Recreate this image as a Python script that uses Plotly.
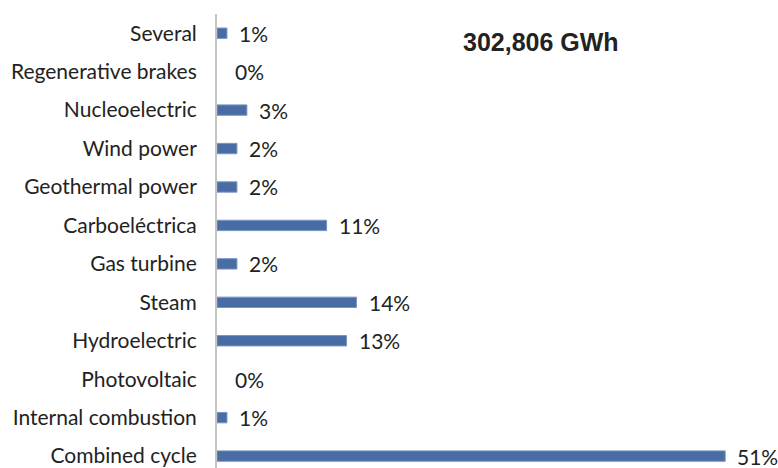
import plotly.graph_objects as go

# Electricity generation by technology (share of total, %)
categories = [
    "Combined cycle", "Internal combustion", "Photovoltaic", "Hydroelectric",
    "Steam", "Gas turbine", "Carboeléctrica", "Geothermal power",
    "Wind power", "Nucleoelectric", "Regenerative brakes", "Several",
]
shares = [51, 1, 0, 13, 14, 2, 11, 2, 2, 3, 0, 1]
total_label = "302,806 GWh"

label_font = dict(family="Lato, Open Sans, sans-serif", size=21, color="#222222")

fig = go.Figure()
fig.add_trace(go.Bar(
    x=shares,
    y=categories,
    orientation="h",
    width=0.27,
    marker=dict(
        color="#4a6ca5",
        line=dict(color="#7a95c4", width=[1 if v > 0 else 0 for v in shares]),
    ),
    hoverinfo="skip",
))

# Value labels to the right of each bar
for cat, val in zip(categories, shares):
    fig.add_annotation(
        x=val, y=cat, text=f"{val}%", showarrow=False,
        xanchor="left", xshift=10 if val > 0 else 16,
        font=label_font,
    )

fig.add_annotation(
    x=0.578, y=0.938, xref="paper", yref="paper", text=f"<b>{total_label}</b>",
    showarrow=False, xanchor="center", yanchor="middle",
    font=dict(family="Liberation Sans, Arial, sans-serif", size=25, color="#222222"),
)

fig.update_layout(
    width=778, height=468,
    margin=dict(l=217, r=0, t=14, b=0),
    paper_bgcolor="white", plot_bgcolor="white",
    showlegend=False,
    xaxis=dict(range=[0, 56.3], visible=False, fixedrange=True),
    yaxis=dict(
        categoryorder="array", categoryarray=categories,
        range=[-0.31, 11.5],
        showgrid=False, zeroline=False,
        showline=True, linecolor="#c4c4c4", linewidth=2,
        ticks="", ticklabelstandoff=14,
        tickfont=label_font,
    ),
)

fig.write_html("out.html")
